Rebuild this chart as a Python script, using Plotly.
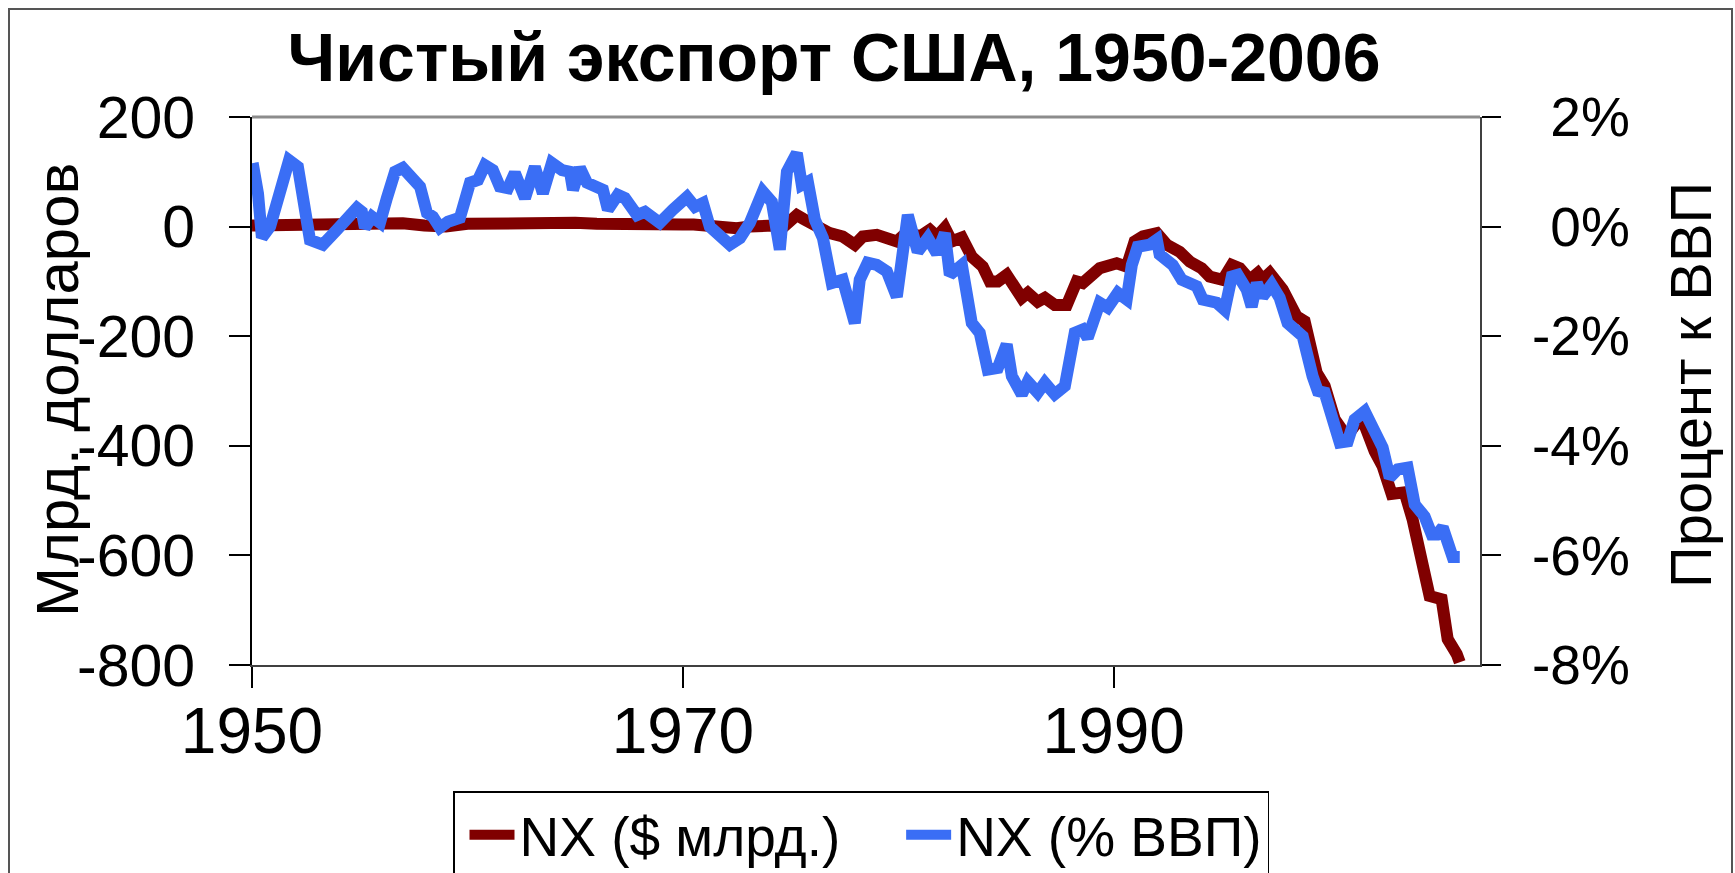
import plotly.graph_objects as go

# ---- data ----
pct_years = [1950.03, 1950.28, 1950.46, 1950.84, 1951.72, 1952.13, 1952.69, 1953.29, 1953.94, 1954.41,
             1954.87, 1955.10, 1955.24, 1955.57, 1955.94, 1956.26, 1956.64, 1957.00, 1957.42, 1957.80,
             1958.12, 1958.40, 1958.72, 1959.10, 1959.65, 1960.12, 1960.49, 1960.81, 1961.18, 1961.50,
             1961.88, 1962.20, 1962.67, 1963.13, 1963.50, 1963.92, 1964.39, 1964.76, 1964.90, 1965.22,
             1965.55, 1966.00, 1966.29, 1966.52, 1966.98, 1967.31, 1967.87, 1968.24, 1968.93, 1969.54,
             1969.77, 1970.19, 1970.56, 1970.93, 1971.25, 1971.72, 1972.18, 1972.65, 1973.11, 1973.71,
             1974.13, 1974.50, 1974.83, 1975.29, 1975.52, 1975.80, 1976.13, 1976.50, 1976.91, 1977.42,
             1977.98, 1978.21, 1978.58, 1979.00, 1979.47, 1979.93, 1980.44, 1980.90, 1981.37, 1981.79,
             1982.16, 1982.39, 1982.95, 1983.41, 1983.78, 1984.15, 1984.62, 1985.03, 1985.27, 1985.73,
             1986.01, 1986.47, 1986.80, 1987.26, 1987.73, 1988.19, 1988.56, 1988.79, 1989.35, 1989.72,
             1990.19, 1990.60, 1990.84, 1991.11, 1991.67, 1992.00, 1992.13, 1992.74, 1993.16, 1993.85,
             1994.13, 1994.78, 1995.15, 1995.48, 1995.75, 1996.17, 1996.40, 1996.64, 1996.91, 1997.33,
             1997.70, 1998.07, 1998.49, 1998.77, 1999.23, 1999.47, 1999.79, 2000.16, 2000.49, 2000.86,
             2001.18, 2001.65, 2002.02, 2002.48, 2002.81, 2003.18, 2003.64, 2003.97, 2004.43, 2004.76,
             2004.99, 2005.27, 2005.50, 2005.73, 2006.06]
pct_values = [1.16, 0.60, -0.20, 0.00, 1.21, 1.09, -0.24, -0.33, -0.06, 0.12,
              0.34, 0.27, -0.02, 0.18, 0.07, 0.52, 1.00, 1.07, 0.85, 0.73,
              0.25, 0.18, -0.02, 0.09, 0.16, 0.80, 0.85, 1.12, 1.03, 0.73,
              0.70, 0.98, 0.52, 1.09, 0.61, 1.16, 1.03, 1.00, 0.67, 1.07,
              0.80, 0.70, 0.67, 0.31, 0.58, 0.52, 0.21, 0.27, 0.07, 0.31,
              0.40, 0.54, 0.36, 0.43, 0.00, -0.15, -0.33, -0.21, 0.07, 0.64,
              0.45, -0.42, 1.00, 1.34, 0.76, 0.82, 0.12, -0.21, -1.03, -0.97,
              -1.76, -0.97, -0.66, -0.70, -0.82, -1.28, 0.21, -0.46, -0.21, -0.49,
              -0.12, -0.88, -0.70, -1.76, -1.94, -2.61, -2.58, -2.15, -2.73, -3.06,
              -2.83, -3.03, -2.85, -3.06, -2.91, -1.94, -1.88, -2.03, -1.39, -1.48,
              -1.21, -1.33, -0.70, -0.37, -0.33, -0.24, -0.51, -0.70, -0.97, -1.09,
              -1.33, -1.39, -1.52, -0.91, -0.88, -1.15, -1.46, -1.03, -1.28, -1.06,
              -1.30, -1.76, -1.94, -2.00, -2.73, -3.00, -3.03, -3.52, -3.94, -3.92,
              -3.52, -3.37, -3.64, -4.03, -4.58, -4.43, -4.40, -5.07, -5.29, -5.62,
              -5.62, -5.49, -5.76, -6.03, -6.03]

bn_years = [1950.0, 1951.0, 1952.0, 1953.0, 1954.0, 1955.0, 1956.0, 1957.0, 1958.0, 1959.0,
            1960.0, 1961.0, 1962.0, 1963.0, 1964.0, 1965.0, 1966.0, 1967.0, 1968.0, 1969.0,
            1970.0, 1970.5, 1971.0, 1971.5, 1972.0, 1972.5, 1973.11, 1973.7, 1974.2, 1974.6,
            1975.0, 1975.29, 1975.6, 1975.89, 1976.4, 1976.82, 1977.42, 1977.98, 1978.35, 1979.0,
            1979.93, 1980.44, 1981.0, 1981.46, 1981.79, 1982.16, 1982.48, 1982.95, 1983.41, 1983.92,
            1984.25, 1984.62, 1985.03, 1985.31, 1985.73, 1986.01, 1986.47, 1986.8, 1987.26, 1987.82,
            1988.28, 1988.56, 1989.03, 1989.35, 1990.14, 1990.6, 1990.97, 1991.35, 1992.0, 1992.46,
            1993.06, 1993.53, 1994.08, 1994.45, 1995.06, 1995.48, 1995.85, 1996.31, 1996.68, 1996.91,
            1997.24, 1997.84, 1998.49, 1998.86, 1999.42, 1999.79, 2000.26, 2000.81, 2001.28, 2001.55,
            2002.11, 2002.48, 2002.9, 2003.5, 2003.87, 2004.2, 2004.66, 2005.22, 2005.5, 2005.92,
            2006.06]
bn_values = [2, 3, 2, 0, 2, 2, 4, 6, 2, 0,
             5, 6, 5, 6, 9, 7, 5, 4, 1, 1,
             4, 4, 2, -1, -4, -3, 0, 3, 2, -3,
             12, 21, 14, 7, -3, -12, -18, -33, -18, -15,
             -27, -9, -18, -6, -18, -2, -27, -20, -55, -73,
             -100, -100, -88, -109, -130, -121, -137, -130, -143, -143,
             -100, -103, -85, -76, -67, -73, -27, -18, -12, -33,
             -46, -64, -76, -91, -97, -70, -76, -97, -85, -97,
             -85, -115, -164, -173, -267, -291, -352, -383, -358, -352,
             -410, -437, -488, -485, -534, -601, -674, -680, -753, -780,
             -795]

x_ticks = [1950, 1970, 1990]
y_ticks = [-800, -600, -400, -200, 0, 200]
y_labels = ["-800", "-600", "-400", "-200", "0", "200"]
y2_ticks = [-8, -6, -4, -2, 0, 2]
y2_labels = ["-8%", "-6%", "-4%", "-2%", "\u20040%", "\u20042%"]

title_text = "Чистый экспорт США, 1950-2006"
left_title = "Млрд. долларов"
right_title = "Процент к ВВП"
name_bn = "NX ($ млрд.)\u00a0\u00a0\u00a0"
name_pct = "NX (% ВВП)"

FONT = "Liberation Sans, Arial, sans-serif"
RED = "#800000"
BLUE = "#3A6EF5"

W, H = 1735, 873
L, R, T, B = 252, 1480, 117, 665

fig = go.Figure()
fig.add_trace(go.Scatter(x=bn_years, y=bn_values, mode="lines", name=name_bn,
                         line=dict(color=RED, width=12), xaxis="x", yaxis="y"))
fig.add_trace(go.Scatter(x=pct_years, y=pct_values, mode="lines", name=name_pct,
                         line=dict(color=BLUE, width=12), xaxis="x", yaxis="y2"))
# empty helper trace that only carries the x tick-label axis
fig.add_trace(go.Scatter(x=[], y=[], xaxis="x2", yaxis="y", showlegend=False,
                         hoverinfo="skip"))

def px_x(p):
    return (p - L) / (R - L)

def px_y(p):
    return (B - p) / (B - T)

fig.update_layout(
    width=W, height=H,
    margin=dict(l=L, r=W - R, t=T, b=H - B, autoexpand=False),
    paper_bgcolor="white", plot_bgcolor="white",
    font=dict(family=FONT, color="black"),
    title=dict(text="<b>" + title_text + "</b>", x=834 / W, xanchor="center",
               y=1 - 57 / H, yanchor="middle", font=dict(size=68, family=FONT, color="black")),
    showlegend=True,
    legend=dict(orientation="h", x=px_x(453), xanchor="left", y=px_y(791), yanchor="top",
                font=dict(size=55, family=FONT), bgcolor="white", bordercolor="black",
                borderwidth=1.5, itemwidth=45, indentation=10),
    xaxis=dict(range=[1950, 2007], tickvals=x_ticks, ticks="outside", ticklen=21, tickwidth=1.5,
               tickcolor="black", showline=True, linecolor="#404040", linewidth=2,
               showgrid=False, zeroline=False, showticklabels=False),
    xaxis2=dict(range=[1950, 2007], tickvals=x_ticks, overlaying="x", anchor="y", side="bottom",
                ticks="", showline=False, showgrid=False, zeroline=False,
                tickfont=dict(size=64), ticklabelstandoff=23),
    yaxis=dict(range=[-800, 200], tickvals=y_ticks, ticktext=y_labels, ticks="outside",
               ticklen=21, tickwidth=1.5, tickcolor="black", showline=True, linecolor="black",
               linewidth=2, showgrid=False, zeroline=False, tickfont=dict(size=59),
               ticklabelstandoff=22),
    yaxis2=dict(range=[-8, 2], tickvals=y2_ticks, ticktext=y2_labels, overlaying="y", side="right",
                ticks="outside", ticklen=19, tickwidth=1.5, tickcolor="black", showline=True,
                linecolor="#404040", linewidth=2, showgrid=False, zeroline=False,
                tickfont=dict(size=55), ticklabelstandoff=20),
    annotations=[
        dict(text=left_title, xref="paper", yref="paper", x=px_x(57), y=px_y(390),
             xanchor="center", yanchor="middle", textangle=-90, showarrow=False,
             font=dict(size=60, family=FONT, color="black")),
        dict(text=right_title, xref="paper", yref="paper", x=px_x(1690), y=px_y(385),
             xanchor="center", yanchor="middle", textangle=-90, showarrow=False,
             font=dict(size=58, family=FONT, color="black")),
    ],
    shapes=[
        dict(type="line", xref="paper", yref="paper", x0=0, x1=1, y0=1, y1=1,
             line=dict(color="#8c8c8c", width=3)),
        dict(type="rect", xref="paper", yref="paper", x0=px_x(9), x1=px_x(1732),
             y0=px_y(880), y1=px_y(9), line=dict(color="#555555", width=2),
             fillcolor="rgba(0,0,0,0)", layer="below"),
    ],
)

fig.write_html("out.html", config={"displayModeBar": False},
               post_script="document.body.style.margin='0';document.body.style.overflow='hidden';")
